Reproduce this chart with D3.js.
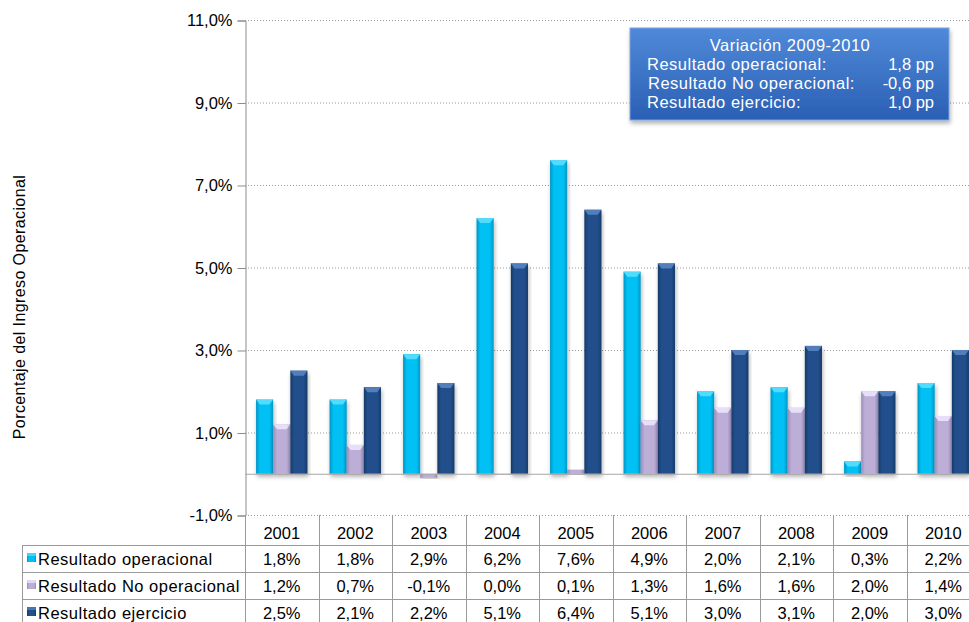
<!DOCTYPE html>
<html>
<head>
<meta charset="utf-8">
<script src="https://cdn.jsdelivr.net/npm/d3@7"></script>
<style>
  body { margin: 0; background: #fff; }
  text { font-family: 'Liberation Sans', Arial, sans-serif; fill: #000; }
  .lbl { letter-spacing: 0.5px; }
</style>
</head>
<body>
<div class="chart"></div>
<script>
'use strict'
var years = ['2001', '2002', '2003', '2004', '2005', '2006', '2007', '2008', '2009', '2010']
var operacional = [1.8, 1.8, 2.9, 6.2, 7.6, 4.9, 2.0, 2.1, 0.3, 2.2]
var noOperacional = [1.2, 0.7, -0.1, 0.0, 0.1, 1.3, 1.6, 1.6, 2.0, 1.4]
var ejercicio = [2.5, 2.1, 2.2, 5.1, 6.4, 5.1, 3.0, 3.1, 2.0, 3.0]
var seriesNames = ['Resultado operacional', 'Resultado No operacional', 'Resultado ejercicio']
var yTicks = [-1, 1, 3, 5, 7, 9, 11]
var boxTitle = 'Variación 2009-2010'
var boxLabels = ['Resultado operacional:', 'Resultado No operacional:', 'Resultado ejercicio:']
var boxValues = ['1,8 pp', '-0,6 pp', '1,0 pp']

var series = [operacional, noOperacional, ejercicio]
var colors = [
  { mid: '#00c0f4', edge: '#0896c4', cap: '#5fe0ff' },
  { mid: '#bcaed6', edge: '#9a8bb9', cap: '#efe8ff' },
  { mid: '#21508c', edge: '#173a68', cap: '#5a86c4' }
]

var width = 969
var height = 622
var x0 = 245
var x1 = 980
var fs = 16.5

var locale = d3.formatLocale({ decimal: ',', thousands: '.', grouping: [3], currency: ['', ''], minus: '-' })
var fmt = locale.format('.1f')

var svg = d3.select('.chart').append('svg')
  .attr('width', width)
  .attr('height', height)

var defs = svg.append('defs')
colors.forEach(function (c, i) {
  var g = defs.append('linearGradient').attr('id', 'bar' + i)
    .attr('x1', 0).attr('x2', 1).attr('y1', 0).attr('y2', 0)
  g.append('stop').attr('offset', 0).attr('stop-color', c.edge)
  g.append('stop').attr('offset', 0.22).attr('stop-color', c.mid)
  g.append('stop').attr('offset', 0.78).attr('stop-color', c.mid)
  g.append('stop').attr('offset', 1).attr('stop-color', c.edge)
})
var bg = defs.append('linearGradient').attr('id', 'boxgrad')
  .attr('x1', 0).attr('x2', 0).attr('y1', 0).attr('y2', 1)
bg.append('stop').attr('offset', 0).attr('stop-color', '#5089d8')
bg.append('stop').attr('offset', 1).attr('stop-color', '#2a5fb4')
var shadow = defs.append('filter').attr('id', 'shadow')
  .attr('x', '-20%').attr('y', '-10%').attr('width', '140%').attr('height', '130%')
shadow.append('feDropShadow').attr('dx', 1).attr('dy', 3).attr('stdDeviation', 2)
  .attr('flood-color', '#000').attr('flood-opacity', 0.3)

var y = d3.scaleLinear().domain([-1, 11]).range([515, 20])
var x = d3.scaleBand().domain(years).range([x0, x1]).paddingInner(0.3).paddingOuter(0.15)
var xs = d3.scaleBand().domain(d3.range(series.length)).range([0, x.bandwidth()])

// gridlines
svg.append('g').selectAll('line')
  .data(yTicks)
  .enter().append('line')
  .attr('x1', x0).attr('x2', width)
  .attr('y1', function (d) { return y(d) + 0.5 })
  .attr('y2', function (d) { return y(d) + 0.5 })
  .attr('stroke', '#9a9a9a')
  .attr('stroke-dasharray', '1,2')

// y axis
var yAxis = svg.append('g')
  .attr('transform', 'translate(' + (x0 + 0.5) + ',0.5)')
  .call(d3.axisLeft(y).tickValues(yTicks).tickSize(8).tickPadding(5)
    .tickFormat(function (d) { return fmt(d) + '%' }))
yAxis.select('.domain').attr('stroke', '#8c8c8c')
yAxis.selectAll('.tick line').attr('stroke', '#8c8c8c')
yAxis.selectAll('.tick text').attr('font-size', fs).attr('fill', '#000')
  .attr('font-family', "'Liberation Sans', Arial, sans-serif")

svg.append('text')
  .attr('transform', 'translate(25,' + 307 + ')rotate(-90)')
  .attr('text-anchor', 'middle')
  .attr('font-size', 16)
  .style('letter-spacing', '0.4px')
  .text('Porcentaje del Ingreso Operacional')

// bars
var barData = []
years.forEach(function (yr, i) {
  series.forEach(function (s, k) {
    barData.push({ year: yr, k: k, v: s[i] })
  })
})

var bars = svg.append('g').selectAll('g')
  .data(barData)
  .enter().append('g')
  .attr('filter', 'url(#shadow)')

bars.append('rect')
  .attr('x', function (d) { return x(d.year) + xs(d.k) })
  .attr('width', xs.bandwidth())
  .attr('y', function (d) { return Math.min(y(d.v), y(0)) })
  .attr('height', function (d) { return Math.max(Math.abs(y(d.v) - y(0)), 0.8) })
  .attr('fill', function (d) { return 'url(#bar' + d.k + ')' })

bars.filter(function (d) { return Math.abs(y(d.v) - y(0)) > 6 })
  .append('path')
  .attr('d', function (d) {
    var l = x(d.year) + xs(d.k)
    var r = l + xs.bandwidth()
    var t = y(d.v)
    var w = xs.bandwidth()
    return 'M' + l + ',' + t + 'L' + r + ',' + t + 'L' + (r - w * 0.22) + ',' + (t + 5) +
      'L' + (l + w * 0.22) + ',' + (t + 5) + 'Z'
  })
  .attr('fill', function (d) { return colors[d.k].cap })
  .attr('opacity', 0.85)

// zero line
svg.append('line')
  .attr('x1', x0).attr('x2', width)
  .attr('y1', y(0) + 0.5).attr('y2', y(0) + 0.5)
  .attr('stroke', '#a6a6a6')

// data table
var rowTops = [515, 545, 572, 599, 626]
var table = svg.append('g').attr('stroke', '#9a9a9a').attr('shape-rendering', 'crispEdges')
rowTops.slice(1).forEach(function (t) {
  table.append('line').attr('x1', 22).attr('x2', width).attr('y1', t + 0.5).attr('y2', t + 0.5)
})
table.append('line').attr('x1', 22.5).attr('x2', 22.5).attr('y1', 545).attr('y2', 622)
years.forEach(function (yr, i) {
  var step = x.step()
  var xl = x0 + step * (i + 1)
  table.append('line').attr('x1', xl + 0.5).attr('x2', xl + 0.5).attr('y1', 515).attr('y2', 622)
})
table.append('line').attr('x1', x0 + 0.5).attr('x2', x0 + 0.5).attr('y1', 515).attr('y2', 622)

var cx = function (yr) { return x(yr) + x.bandwidth() / 2 }

svg.append('g').selectAll('text')
  .data(years)
  .enter().append('text')
  .attr('x', cx)
  .attr('y', 539)
  .attr('text-anchor', 'middle')
  .attr('font-size', fs)
  .text(function (d) { return d })

series.forEach(function (s, k) {
  var top = rowTops[k + 1]
  var row = svg.append('g')
  row.append('rect')
    .attr('x', 27).attr('y', top + 8).attr('width', 9).attr('height', 9)
    .attr('fill', 'url(#bar' + k + ')')
  row.append('rect')
    .attr('x', 27).attr('y', top + 8).attr('width', 9).attr('height', 3)
    .attr('fill', colors[k].cap).attr('opacity', 0.7)
  row.append('text')
    .attr('class', 'lbl')
    .attr('x', 38).attr('y', top + 20)
    .attr('font-size', fs)
    .text(seriesNames[k])
  row.selectAll('text.v')
    .data(s)
    .enter().append('text')
    .attr('class', 'v')
    .attr('x', function (d, i) { return cx(years[i]) })
    .attr('y', top + 20)
    .attr('text-anchor', 'middle')
    .attr('font-size', fs)
    .text(function (d) { return fmt(d) + '%' })
})

// info box
var box = svg.append('g')
box.append('rect')
  .attr('x', 630).attr('y', 28).attr('width', 319).attr('height', 92)
  .attr('fill', 'url(#boxgrad)')
  .attr('stroke', '#7aa4e4')
  .attr('filter', 'url(#shadow)')
box.append('text')
  .attr('class', 'lbl')
  .attr('x', 790).attr('y', 51)
  .attr('text-anchor', 'middle')
  .attr('font-size', fs)
  .style('fill', '#fff')
  .text(boxTitle)
boxLabels.forEach(function (l, i) {
  box.append('text')
    .attr('class', 'lbl')
    .attr('x', i === 1 ? 648 : 647).attr('y', 70 + i * 19)
    .attr('font-size', fs)
    .style('fill', '#fff')
    .text(l)
  box.append('text')
    .attr('x', 934).attr('y', 70 + i * 19)
    .attr('text-anchor', 'end')
    .attr('font-size', fs)
    .style('fill', '#fff')
    .text(boxValues[i])
})
</script>
</body>
</html>
